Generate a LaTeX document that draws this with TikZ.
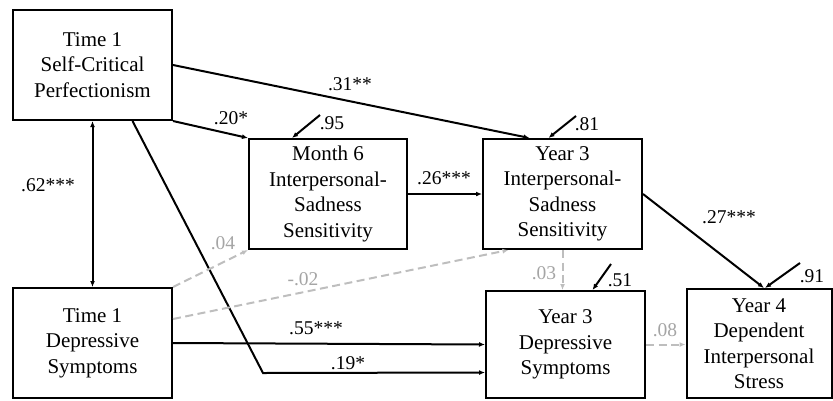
\documentclass[tikz,border=0pt]{standalone}
\usepackage{fontspec}
\setmainfont{Liberation Serif}
\usepackage{tikz}
\usetikzlibrary{arrows.meta,positioning,calc}
\definecolor{lightpath}{RGB}{190,190,190}
\definecolor{lighttext}{RGB}{165,165,165}

\begin{document}
\begin{tikzpicture}[x=1pt, y=-1pt,
    box/.style={draw, line width=2pt, align=center, inner sep=0pt,
                font=\fontsize{21}{25.5}\selectfont},
    coef/.style={font=\fontsize{19.5}{22}\selectfont, inner sep=1pt},
    nscoef/.style={coef, text=lighttext},
    sig/.style={line width=2pt, -{Latex[length=6pt,width=5pt]}},
    ns/.style={line width=2pt, draw=lightpath, dash pattern=on 8pt off 4.5pt,
               -{Latex[length=6pt,width=5pt]}}]
    \useasboundingbox (0,0) rectangle (833,400);

    % Time 1 variables
    \node[box, minimum width=159pt, minimum height=110pt] (scp) at (92.5,65) {Time 1\\Self-Critical\\Perfectionism};
    \node[box, minimum width=159pt, minimum height=110pt] (dep1) at (92.5,343) {Time 1\\Depressive\\Symptoms};

    % Mediators
    \node[box, minimum width=158pt, minimum height=110pt] (ism6) at (328,194) {Month 6\\Interpersonal-\\Sadness\\Sensitivity};
    \node[box, minimum width=159pt, minimum height=110pt] (isy3) at (562.5,194) {Year 3\\Interpersonal-\\Sadness\\Sensitivity};

    % Outcomes
    \node[box, minimum width=159pt, minimum height=107pt] (dep3) at (565.5,344.5) {Year 3\\Depressive\\Symptoms};
    \node[box, minimum width=145pt, minimum height=109pt] (stress4) at (759,343.5) {Year 4\\Dependent\\Interpersonal\\Stress};

    % Significant paths
    \draw[sig, {Latex[length=6pt,width=5pt]}-{Latex[length=6pt,width=5pt]}] (scp.south) -- (dep1.north);
    \draw[sig] (scp.east) -- ([xshift=-33pt]isy3.north);
    \draw[sig] (scp.south east) -- (ism6.north west);
    \draw[sig] (ism6.east) -- (isy3.west);
    \coordinate (bend) at (263,373);
    \draw[sig] ([xshift=40pt]scp.south) -- (bend) -- ([yshift=-28pt]dep3.west);
    \draw[sig] (dep1.east) -- (dep3.west);
    \draw[sig] (isy3.east) -- ([xshift=5pt]stress4.north);

    % Non-significant paths
    \draw[ns] (dep1.north east) -- (ism6.south west);
    \draw[ns] ([yshift=24pt]dep1.east) -- ([xshift=-54pt]isy3.south);
    \draw[ns] (isy3.south) -- (isy3.south |- dep3.north);
    \draw[ns] (dep3.east) -- (dep3.east -| stress4.west);

    % Residuals
    \coordinate (e95) at (320,115);
    \coordinate (e81) at (576,116);
    \coordinate (e51) at (611,264);
    \coordinate (e91) at (800,263);
    \draw[sig] (e95) -- ([xshift=-36pt]ism6.north);
    \draw[sig] (e81) -- ([xshift=-14pt]isy3.north);
    \draw[sig] (e51) -- ([xshift=27pt]dep3.north);
    \draw[sig] (e91) -- ([xshift=6pt]stress4.north);

    % Coefficients
    \node[coef] (c31) at (350,84) {.31**};
    \node[coef] (c20) at (231,118) {.20*};
    \node[coef] (c26) at (444,178) {.26***};
    \node[coef] (c62) at (48,185) {.62***};
    \node[coef] (c55) at (316,328) {.55***};
    \node[coef] (c19) at (348,363) {.19*};
    \node[coef] (c27) at (729,217) {.27***};
    \node[nscoef] (c04) at (223,243) {.04};
    \node[nscoef] (c02) at (303,279) {-.02};
    \node[nscoef] (c03) at (544,273) {.03};
    \node[nscoef] (c08) at (665,330) {.08};
    \node[coef] (r95) at (332,123) {.95};
    \node[coef] (r81) at (587,124) {.81};
    \node[coef] (r51) at (620,280) {.51};
    \node[coef] (r91) at (812,276) {.91};
\end{tikzpicture}
\end{document}
